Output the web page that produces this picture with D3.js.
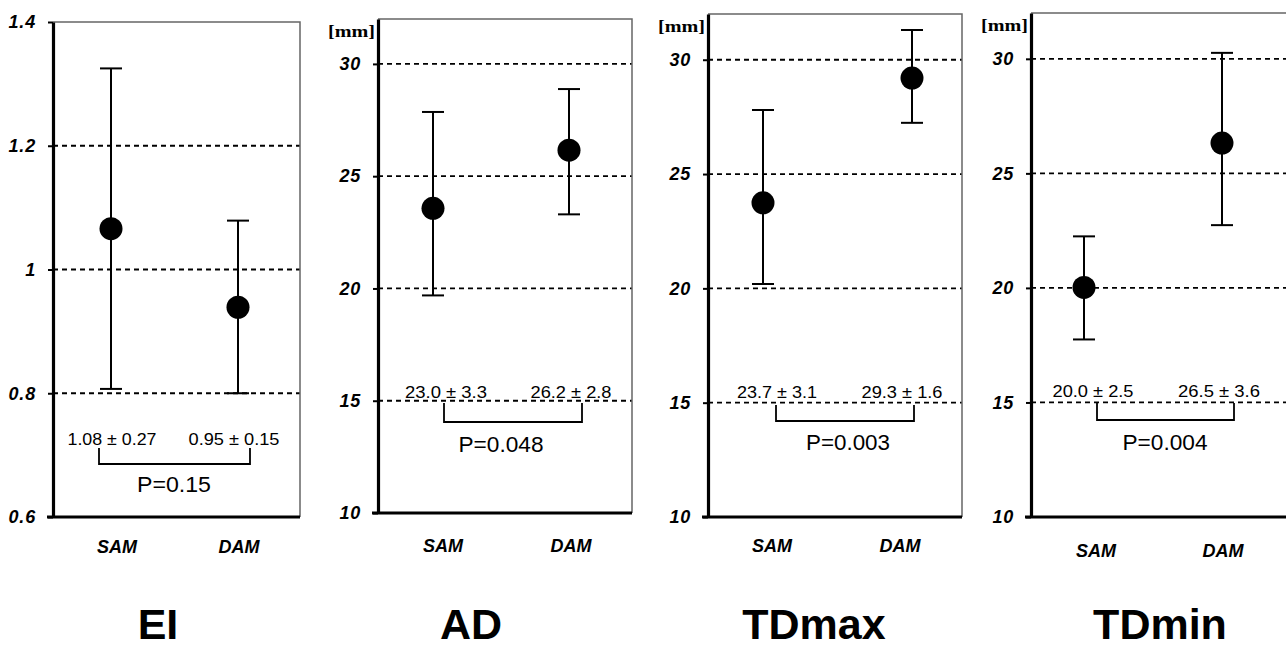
<!DOCTYPE html>
<html>
<head>
<meta charset="utf-8">
<script src="https://cdn.jsdelivr.net/npm/d3@7/dist/d3.min.js"></script>
<style>
  html, body { margin: 0; padding: 0; background: #fff; }
  svg { display: block; }
</style>
</head>
<body>
<script>
// ---------------- DATA ----------------
const panels = ["EI", "AD", "TDmax", "TDmin"];
const groups = ["SAM", "DAM"];
const means = [[1.066, 0.939], [23.57, 26.16], [23.74, 29.20], [20.02, 26.32]];
const upper = [[1.325, 1.079], [27.86, 28.88], [27.80, 31.30], [22.25, 30.26]];
const lower = [[0.807, 0.800], [19.69, 23.30], [20.19, 27.24], [17.75, 22.74]];
const summaryLabels = [
  ["1.08 ± 0.27", "0.95 ± 0.15"],
  ["23.0 ± 3.3", "26.2 ± 2.8"],
  ["23.7 ± 3.1", "29.3 ± 1.6"],
  ["20.0 ± 2.5", "26.5 ± 3.6"]
];
const pValues = ["P=0.15", "P=0.048", "P=0.003", "P=0.004"];
const yDomains = [[0.6, 1.4], [10, 32], [10, 32], [10, 32]];
const yTicks = [[0.6, 0.8, 1.0, 1.2, 1.4], [10, 15, 20, 25, 30], [10, 15, 20, 25, 30], [10, 15, 20, 25, 30]];
const yTickLabels = [["0.6", "0.8", "1", "1.2", "1.4"], ["10", "15", "20", "25", "30"], ["10", "15", "20", "25", "30"], ["10", "15", "20", "25", "30"]];
const gridValues = [[0.8, 1.0, 1.2], [15, 20, 25, 30], [15, 20, 25, 30], [15, 20, 25, 30]];
const unitLabels = ["", "[mm]", "[mm]", "[mm]"];

// ---------------- LAYOUT ----------------
const layout = [
  { left: 53, right: 300, top: 22, bottom: 517, xs: [111, 238], lab: [117, 239], labY: 553, titleX: 158,
    txtY: 445, txtX: [112, 234], txtW: [89, 91], br: [99, 250], brTop: 448, brBot: 464, pX: 174, pY: 492, pW: 74 },
  { left: 378, right: 632, top: 19, bottom: 513, xs: [433, 569], lab: [443, 571], labY: 552, titleX: 471,
    txtY: 398, txtX: [446, 571], txtW: [82, 81], br: [444, 582], brTop: 403, brBot: 422, pX: 501, pY: 452, pW: 85 },
  { left: 708, right: 962, top: 14, bottom: 517, xs: [763, 912], lab: [772, 900], labY: 552, titleX: 814,
    txtY: 398, txtX: [777, 902], txtW: [80, 81], br: [776, 914], brTop: 405, brBot: 421, pX: 848, pY: 450, pW: 84 },
  { left: 1031, right: 1288, top: 13, bottom: 517, xs: [1084, 1222], lab: [1096, 1223], labY: 557, titleX: 1160,
    txtY: 397, txtX: [1093, 1219], txtW: [81, 82], br: [1097, 1234], brTop: 403, brBot: 420, pX: 1165, pY: 450, pW: 85 }
];

const W = 1286, H = 648;
const sans = "'Liberation Sans', Arial, sans-serif";

const svg = d3.select("body").append("svg")
  .attr("width", W).attr("height", H)
  .attr("viewBox", `0 0 ${W} ${H}`);

panels.forEach((name, p) => {
  const L = layout[p];
  const y = d3.scaleLinear().domain(yDomains[p]).range([L.bottom, L.top]);
  const x = d3.scalePoint().domain(groups).range(L.xs);
  const g = svg.append("g").attr("class", "panel-" + name);

  // dashed gridlines
  g.selectAll("line.grid").data(gridValues[p]).join("line")
    .attr("class", "grid")
    .attr("x1", L.left).attr("x2", L.right)
    .attr("y1", d => y(d)).attr("y2", d => y(d))
    .attr("stroke", "#000").attr("stroke-width", 1.8)
    .attr("stroke-dasharray", "5,4");

  // thin frame (top & right)
  g.append("path")
    .attr("d", `M${L.left},${y(yDomains[p][1])}H${L.right}V${L.bottom}`)
    .attr("fill", "none").attr("stroke", "#666").attr("stroke-width", 1.5);

  // error bars
  const eb = g.selectAll("g.eb").data(groups).join("g").attr("class", "eb");
  eb.append("line")
    .attr("x1", d => x(d)).attr("x2", d => x(d))
    .attr("y1", (d, i) => y(lower[p][i])).attr("y2", (d, i) => y(upper[p][i]))
    .attr("stroke", "#000").attr("stroke-width", 2);
  eb.append("line")
    .attr("x1", d => x(d) - 11).attr("x2", d => x(d) + 11)
    .attr("y1", (d, i) => y(upper[p][i])).attr("y2", (d, i) => y(upper[p][i]))
    .attr("stroke", "#000").attr("stroke-width", 2);
  eb.append("line")
    .attr("x1", d => x(d) - 11).attr("x2", d => x(d) + 11)
    .attr("y1", (d, i) => y(lower[p][i])).attr("y2", (d, i) => y(lower[p][i]))
    .attr("stroke", "#000").attr("stroke-width", 2);
  eb.append("circle")
    .attr("cx", d => x(d)).attr("cy", (d, i) => y(means[p][i]))
    .attr("r", 11.5).attr("fill", "#000");

  // y axis
  const ax = g.append("g")
    .attr("transform", `translate(${L.left},0)`)
    .call(d3.axisLeft(y).tickValues(yTicks[p])
      .tickFormat((d, i) => yTickLabels[p][i])
      .tickSize(5).tickPadding(12).tickSizeOuter(0));
  ax.select(".domain").attr("stroke", "#000").attr("stroke-width", 3.2);
  ax.selectAll(".tick line").attr("stroke", "#000").attr("stroke-width", 2);
  ax.selectAll(".tick text")
    .attr("fill", "#000")
    .style("font-family", sans).style("font-size", "18px")
    .style("font-weight", "bold").style("font-style", "italic")
    .style("letter-spacing", "0.8px");

  // bottom axis line
  g.append("line")
    .attr("x1", L.left - 6).attr("x2", L.right)
    .attr("y1", L.bottom).attr("y2", L.bottom)
    .attr("stroke", "#000").attr("stroke-width", 3.2);

  // unit label
  if (unitLabels[p]) {
    g.append("text")
      .attr("x", L.left - 3).attr("y", L.top + 18)
      .attr("text-anchor", "end")
      .attr("textLength", 47).attr("lengthAdjust", "spacingAndGlyphs")
      .style("font-family", "'Liberation Serif', 'Times New Roman', serif")
      .style("font-weight", "bold").style("font-size", "16px")
      .text(unitLabels[p]);
  }

  // category labels
  g.selectAll("text.cat").data(groups).join("text")
    .attr("class", "cat")
    .attr("x", (d, i) => L.lab[i]).attr("y", L.labY)
    .attr("text-anchor", "middle")
    .style("font-family", sans).style("font-size", "18px")
    .style("font-weight", "bold").style("font-style", "italic")
    .text(d => d);

  // summary labels
  g.selectAll("text.sum").data(summaryLabels[p]).join("text")
    .attr("class", "sum")
    .attr("x", (d, i) => L.txtX[i]).attr("y", L.txtY)
    .attr("text-anchor", "middle")
    .attr("textLength", (d, i) => L.txtW[i]).attr("lengthAdjust", "spacingAndGlyphs")
    .style("font-family", sans).style("font-size", "17px")
    .text(d => d);

  // bracket
  g.append("path")
    .attr("d", `M${L.br[0]},${L.brTop}V${L.brBot}H${L.br[1]}V${L.brTop}`)
    .attr("fill", "none").attr("stroke", "#000").attr("stroke-width", 1.8);

  // p value
  g.append("text")
    .attr("x", L.pX).attr("y", L.pY)
    .attr("text-anchor", "middle")
    .attr("textLength", L.pW).attr("lengthAdjust", "spacingAndGlyphs")
    .style("font-family", sans).style("font-size", "22px")
    .text(pValues[p]);

  // panel title
  g.append("text")
    .attr("x", L.titleX).attr("y", 639)
    .attr("text-anchor", "middle")
    .style("font-family", sans).style("font-size", "43px")
    .style("font-weight", "bold")
    .text(name);
});
</script>
</body>
</html>
